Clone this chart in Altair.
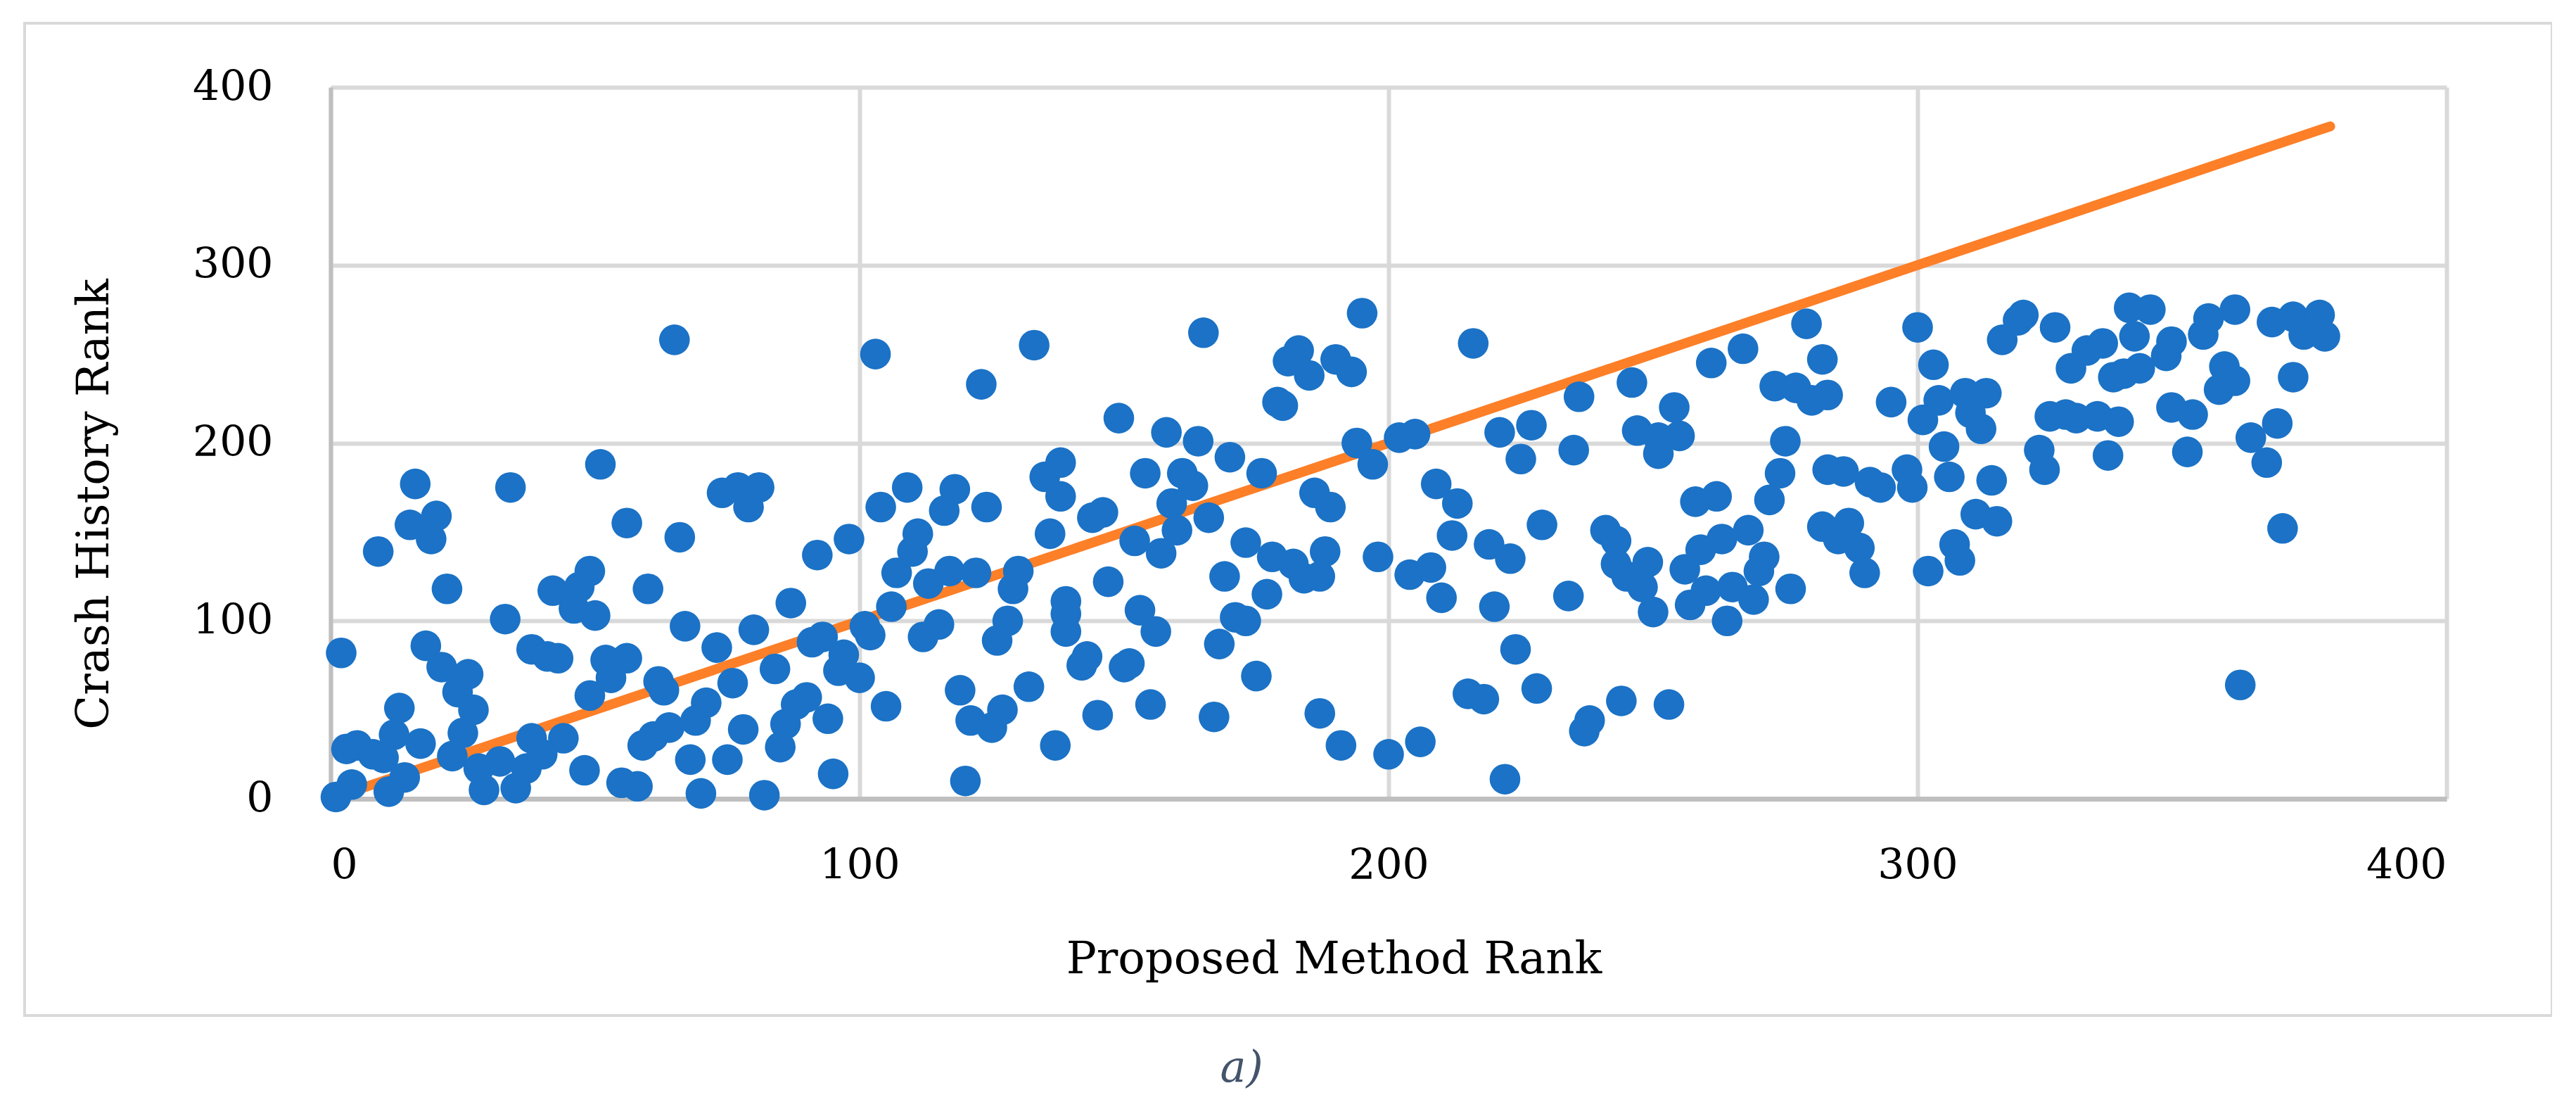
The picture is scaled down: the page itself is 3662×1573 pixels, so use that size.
import altair as alt
import pandas as pd

# Proposed Method Rank (x) and Crash History Rank (y)
proposed_rank = [
    65, 16, 34, 51, 15, 20, 19, 9, 56, 66, 22, 42, 49, 47, 46, 50, 60, 33, 67, 2,
    18, 21, 26, 24, 27, 38, 41, 43, 52, 56, 53, 49, 62, 63, 13, 12, 3, 5, 8, 10,
    4, 1, 14, 11, 17, 25, 23, 29, 28, 32, 35, 37, 38, 44, 40, 48, 55, 58, 59, 61, 64,
    103, 123, 133, 74, 77, 81, 79, 92, 98, 87, 73, 80, 84, 76, 91, 93, 97, 96, 100,
    101, 102, 71, 69, 78, 86, 90, 88, 94, 85, 68, 75, 70, 82, 95, 104, 109, 118, 116,
    124, 135, 138, 138, 111, 110, 107, 113, 117, 122, 130, 129, 136, 139, 139, 106,
    115, 112, 128, 126, 139, 119, 105, 121, 125, 127, 132, 137, 120,
    165, 195, 149, 181, 183, 185, 190, 193, 179, 180, 158, 164, 170, 154, 161, 163,
    159, 176, 194, 197, 202, 205, 209, 186, 189, 146, 144, 166, 160, 152, 157, 173,
    178, 182, 184, 188, 187, 198, 204, 208, 210, 147, 169, 177, 153, 156, 171, 173,
    168, 143, 142, 151, 150, 175, 145, 155, 167, 187, 191, 200, 206,
    216, 236, 246, 261, 267, 279, 282, 221, 227, 225, 235, 247, 251, 254, 255, 251,
    273, 277, 280, 275, 274, 272, 283, 282, 213, 212, 219, 223, 229, 220, 234, 241,
    243, 243, 245, 249, 248, 250, 256, 258, 262, 259, 263, 268, 257, 260, 265, 264,
    269, 270, 271, 276, 224, 215, 218, 228, 238, 237, 244, 253, 222,
    283, 295, 300, 303, 304, 301, 309, 313, 310, 312, 305, 306, 314, 311, 315, 307,
    308, 302, 286, 291, 293, 298, 299, 287, 285, 289, 290, 316, 320, 319, 326, 329,
    332, 335, 340, 344, 341, 348, 347, 337, 339, 342, 354, 325, 328, 330, 334, 338,
    323, 324, 336, 348, 352, 351,
    355, 360, 367, 371, 373, 376, 377, 358, 360, 357, 371, 363, 368, 366, 369, 361,
]
crash_rank = [
    258, 177, 175, 188, 154, 159, 146, 139, 155, 147, 118, 117, 128, 119, 107, 103, 118, 101, 97, 82,
    86, 74, 70, 60, 50, 84, 80, 79, 78, 79, 68, 58, 66, 61, 51, 36, 28, 30, 25, 23,
    8, 1, 12, 4, 31, 37, 24, 5, 17, 21, 6, 17, 34, 34, 25, 16, 9, 7, 30, 35, 40,
    250, 233, 255, 172, 175, 175, 164, 137, 146, 110, 85, 95, 73, 65, 88, 91, 81, 72, 68,
    97, 92, 54, 44, 39, 42, 57, 53, 45, 29, 22, 22, 3, 2, 14, 164, 175, 174, 162,
    164, 181, 189, 170, 149, 139, 127, 121, 128, 127, 128, 118, 149, 111, 104, 108,
    98, 91, 100, 89, 94, 61, 52, 44, 40, 50, 63, 30, 10,
    262, 273, 214, 246, 252, 238, 247, 240, 223, 221, 206, 201, 192, 183, 183, 176,
    166, 183, 200, 188, 203, 205, 177, 172, 164, 161, 158, 158, 151, 145, 138, 144,
    136, 132, 124, 139, 125, 136, 126, 130, 113, 122, 125, 115, 106, 94, 102, 100,
    87, 80, 75, 76, 74, 69, 47, 53, 46, 48, 30, 25, 32,
    256, 226, 234, 245, 253, 267, 247, 206, 210, 191, 196, 207, 203, 220, 204, 194,
    232, 231, 224, 201, 183, 168, 185, 153, 166, 148, 143, 135, 154, 108, 114, 151,
    145, 132, 125, 133, 119, 105, 129, 167, 170, 140, 146, 151, 109, 117, 119, 100,
    112, 128, 136, 118, 84, 59, 56, 62, 44, 38, 55, 53, 11,
    227, 223, 265, 244, 224, 213, 228, 228, 217, 208, 198, 181, 179, 160, 156, 143,
    134, 128, 184, 178, 175, 185, 175, 155, 146, 141, 127, 258, 272, 269, 265, 242,
    252, 256, 276, 275, 260, 257, 249, 237, 239, 242, 261, 215, 216, 214, 215, 212,
    196, 185, 193, 220, 216, 195,
    270, 275, 268, 271, 261, 272, 260, 243, 235, 230, 237, 203, 211, 189, 152, 64,
]
ref_x = [1, 378]
ref_y = [1, 378]

pts = pd.DataFrame({"Proposed Method Rank": proposed_rank, "Crash History Rank": crash_rank})
ref = pd.DataFrame({"Proposed Method Rank": ref_x, "Crash History Rank": ref_y})
one = pd.DataFrame({"k": [0]})

FONT = "DejaVu Serif"
xs = alt.Scale(domain=[0, 400], nice=False, zero=True)
ys = alt.Scale(domain=[0, 400], nice=False, zero=True)

x_axis = alt.Axis(
    values=[0, 100, 200, 300, 400], title="Proposed Method Rank",
    grid=True, gridColor="#D9D9D9", gridWidth=6,
    domainColor="#BFBFBF", domainWidth=7, ticks=False, tickSize=0,
    labelFont=FONT, labelFontSize=60, labelColor="#000000", labelPadding=66,
    titleFont=FONT, titleFontSize=64, titleFontWeight="normal", titleColor="#000000",
    titleX=1426, titleY=247, titleAlign="center", titleBaseline="alphabetic",
)
y_axis = alt.Axis(
    values=[0, 100, 200, 300, 400], title="Crash History Rank",
    grid=True, gridColor="#D9D9D9", gridWidth=6,
    domainColor="#BFBFBF", domainWidth=6, ticks=False, tickSize=0,
    labelFont=FONT, labelFontSize=60, labelColor="#000000", labelPadding=82,
    titleFont=FONT, titleFontSize=64, titleFontWeight="normal", titleColor="#000000",
    titleX=-336, titleY=592, titleAngle=270, titleAlign="center", titleBaseline="middle",
)

border = alt.Chart(one).mark_rect(fill=None, stroke="#D9D9D9", strokeWidth=4).encode(
    x=alt.value(-435), x2=alt.value(3158), y=alt.value(-91), y2=alt.value(1319)
)

line = alt.Chart(ref).mark_line(color="#FD7F28", strokeWidth=14, strokeCap="round").encode(
    x=alt.X("Proposed Method Rank:Q", scale=xs, axis=x_axis),
    y=alt.Y("Crash History Rank:Q", scale=ys, axis=y_axis),
)

dots = alt.Chart(pts).mark_circle(size=1900, opacity=1, color="#1B72C6").encode(
    x=alt.X("Proposed Method Rank:Q", scale=xs),
    y=alt.Y("Crash History Rank:Q", scale=ys),
)

caption = alt.Chart(one).mark_text(
    text="a)", font=FONT, fontSize=62, fontStyle="italic", color="#44546A",
    align="center", baseline="middle",
).encode(x=alt.value(1295), y=alt.value(1394))

chart = alt.layer(border, line, dots, caption).properties(
    width=3008, height=1011,
    autosize=alt.AutoSizeParams(type="none"),
    padding={"left": 462, "top": 116, "right": 150, "bottom": 420},
).configure_view(stroke=None)

chart.save("out.html", embed_options={"renderer": "svg", "actions": False})
